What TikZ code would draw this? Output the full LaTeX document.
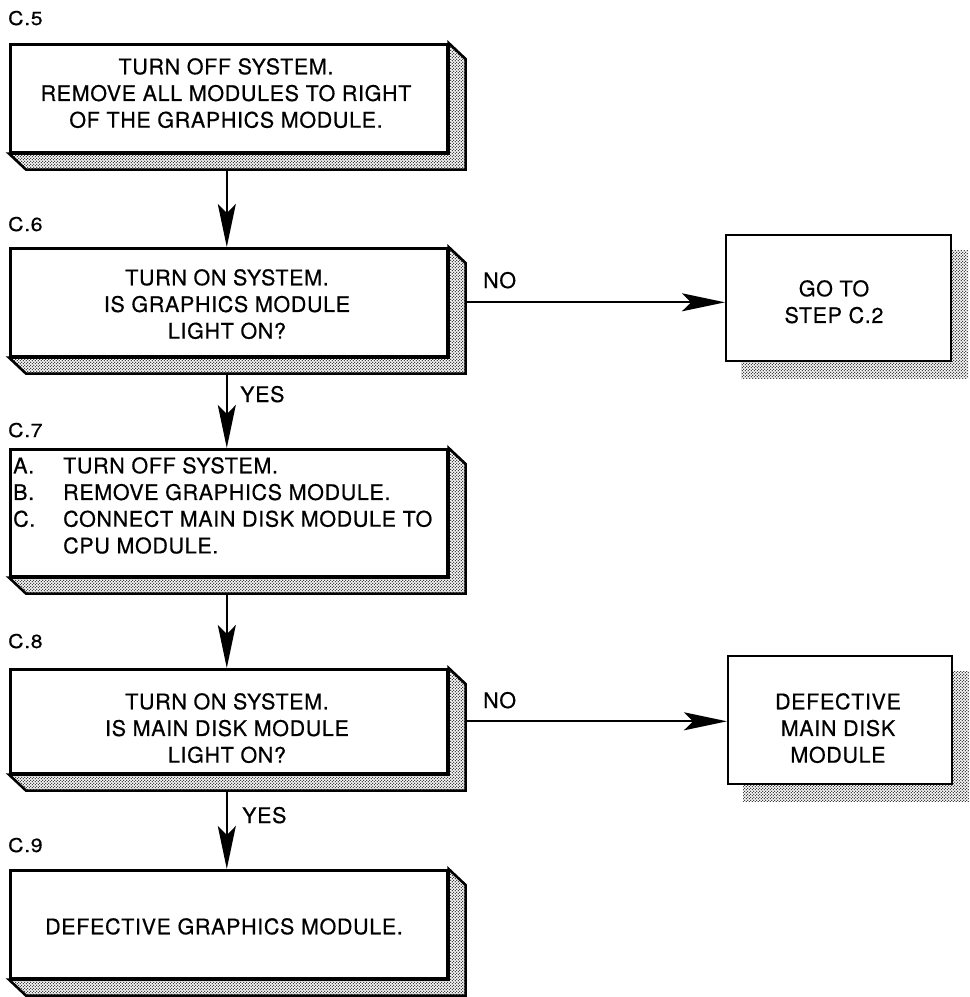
\documentclass[tikz,border=0pt]{standalone}
\usepackage{fontspec}
\setmainfont{TeX Gyre Heros}[LetterSpace=3, FakeBold=0.5]
\usetikzlibrary{arrows.meta,patterns,patterns.meta,backgrounds,calc}
\pgfdeclarepattern{name=stip, type=uncolored,
  bottom left={\pgfpoint{0pt}{0pt}}, top right={\pgfpoint{3.4pt}{3.4pt}},
  tile size={\pgfpoint{3.4pt}{3.4pt}},
  code={\pgfpathcircle{\pgfpoint{0.85pt}{0.85pt}}{0.78pt}%
        \pgfpathcircle{\pgfpoint{2.55pt}{2.55pt}}{0.78pt}%
        \pgfusepath{fill}}}
\tikzset{
  box/.style={draw, line width=2.6pt, fill=white, inner sep=0pt, anchor=north west, minimum width=437pt},
  plainbox/.style={draw, line width=2.2pt, fill=white, inner sep=0pt, anchor=north west},
  txt/.style={inner sep=0pt, align=center, font=\fontsize{21.5}{26.7}\selectfont},
  steplabel/.style={inner sep=0pt, anchor=base west, font=\fontsize{19}{22}\selectfont},
  arr/.style={line width=2pt, -{Stealth[length=43pt, width=18pt, inset=9pt]}},
  stipple/.style={pattern=stip, pattern color=black},
}
\newcommand\slabbox[1]{%
  \draw[line width=2.6pt, line join=miter, stipple] (#1.north east) -- ++(17pt,-16pt)
    -- ([shift={(17pt,-16pt)}]#1.south east) -- ([shift={(17pt,-16pt)}]#1.south west)
    -- (#1.south west) -- (#1.south east) -- cycle;
  \coordinate (#1-bot) at ([shift={(-2pt,-16pt)}]#1.south);
  \coordinate (#1-rt) at ([xshift=17pt]#1.east);
}
\newcommand\widelabel[1]{\scalebox{1.12}[1]{#1}}
\begin{document}
\begin{tikzpicture}[x=1pt, y=-1pt]
\useasboundingbox (0,0) rectangle (970,997);

% step labels
\node[steplabel] (l5) at (8,25) {\widelabel{C.5}};
\node[steplabel] (l6) at (8,231) {\widelabel{C.6}};
\node[steplabel] (l7) at (8,437) {\widelabel{C.7}};
\node[steplabel] (l8) at (8,648) {\widelabel{C.8}};
\node[steplabel] (l9) at (8,852) {\widelabel{C.9}};

% left boxes
\node[box, minimum height=108pt] (b5) at (9,43) {};
\slabbox{b5}
\node[box, minimum height=108pt] (b6) at (9,247) {};
\slabbox{b6}
\node[box, minimum height=127pt] (b7) at (9,448) {};
\slabbox{b7}
\node[box, minimum height=104pt] (b8) at (9,668) {};
\slabbox{b8}
\node[box, minimum height=108pt] (b9) at (9,869) {};
\slabbox{b9}

% right boxes
\node[plainbox, minimum width=225pt, minimum height=126pt] (g) at (725,234) {};
\node[plainbox, minimum width=224pt, minimum height=128pt] (m) at (727,655) {};
\begin{scope}[on background layer]
  \fill[stipple] ([shift={(16pt,-16pt)}]g.south west) rectangle ([shift={(16pt,-16pt)}]g.north east);
  \fill[stipple] ([shift={(16pt,-16pt)}]m.south west) rectangle ([shift={(16pt,-16pt)}]m.north east);
\end{scope}

% texts
\node[txt, anchor=north] (t5) at (226,58) {TURN OFF SYSTEM.\\REMOVE ALL MODULES TO RIGHT\\OF THE GRAPHICS MODULE.};
\node[txt, anchor=north] (t6) at (227,269) {TURN ON SYSTEM.\\IS GRAPHICS MODULE\\LIGHT ON?};
\node[txt, anchor=north west, align=left] (t7) at (13,457) {\makebox[50pt][l]{A.}TURN OFF SYSTEM.\\\makebox[50pt][l]{B.}REMOVE GRAPHICS MODULE.\\\makebox[50pt][l]{C.}CONNECT MAIN DISK MODULE TO\\\hspace*{50pt}CPU MODULE.};
\node[txt, anchor=north] (t8) at (227,693) {TURN ON SYSTEM.\\IS MAIN DISK MODULE\\LIGHT ON?};
\node[txt, anchor=north] (t9) at (224,918) {DEFECTIVE GRAPHICS MODULE.};
\node[txt, anchor=north] (tg) at (834,280) {GO TO\\STEP C.2};
\node[txt, anchor=north] (tm) at (838,693) {DEFECTIVE\\MAIN DISK\\MODULE};

% connectors
\draw[arr] (b5-bot) -- (b5-bot |- b6.north);
\draw[arr] (b6-bot) -- (b6-bot |- b7.north);
\draw[arr] (b7-bot) -- (b7-bot |- b8.north);
\draw[arr] (b8-bot) -- (b8-bot |- b9.north);
\draw[arr] (b6-rt) -- (b6-rt -| g.west);
\draw[arr] (b8-rt) -- (b8-rt -| m.west);

% connector labels
\node[txt, anchor=base west] (y6) at (240,402) {YES};
\node[txt, anchor=base west] (y8) at (242,823) {YES};
\node[txt, anchor=base west] (n6) at (483,288) {NO};
\node[txt, anchor=base west] (n8) at (483,708) {NO};
\end{tikzpicture}
\end{document}
